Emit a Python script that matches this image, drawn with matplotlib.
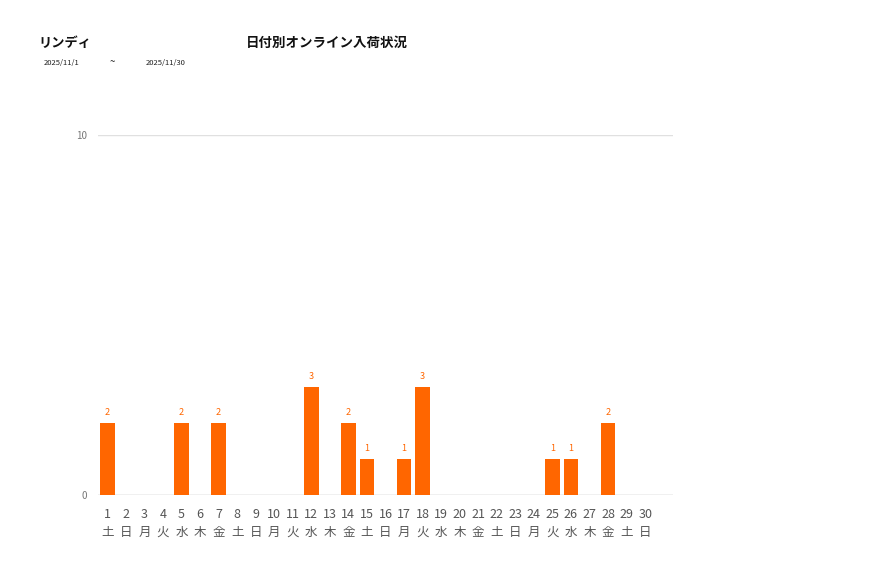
import matplotlib
matplotlib.use("Agg")
import matplotlib.pyplot as plt

plt.rcParams["font.family"] = ["Noto Sans CJK JP", "DejaVu Sans"]

# データ: 2025年11月の日別オンライン入荷数
DAYS = list(range(1, 31))
WEEKDAYS = ["土", "日", "月", "火", "水", "木", "金"] * 5
WEEKDAYS = WEEKDAYS[:30]
COUNTS = [2, 0, 0, 0, 2, 0, 2, 0, 0, 0,
          0, 3, 0, 2, 1, 0, 1, 3, 0, 0,
          0, 0, 0, 0, 1, 1, 0, 2, 0, 0]
Y_TICKS = [0, 10]

ORANGE = "#ff6600"
GRAY = "#555555"

fig = plt.figure(figsize=(8.77, 5.78), dpi=100)
ax = fig.add_axes([98 / 877, 1 - 495 / 578, 575 / 877, 360 / 578])

bars = ax.bar(DAYS, COUNTS, width=0.79, color=ORANGE, zorder=3)
for d, c in zip(DAYS, COUNTS):
    if c > 0:
        ax.text(d, c + 0.18, str(c), ha="center", va="bottom",
                fontsize=6.5, color=ORANGE)

ax.set_xlim(0.5, 31.5)
ax.set_ylim(0, 10)
ax.set_yticks(Y_TICKS)
ax.set_yticklabels([str(t) for t in Y_TICKS], fontsize=7, color="#777777")
ax.set_xticks(DAYS)
ax.set_xticklabels([f"{d}\n{w}" for d, w in zip(DAYS, WEEKDAYS)],
                   fontsize=9, color=GRAY, linespacing=1.55)
ax.tick_params(axis="both", length=0)
ax.tick_params(axis="x", pad=9)
ax.tick_params(axis="y", pad=8)
ax.grid(True, axis="y", color="#e0e0e0", lw=1.0, zorder=0)
for s in ax.spines.values():
    s.set_visible(False)
ax.axhline(0, color="#d0d0d0", lw=1.0, zorder=2)

# ヘッダー
fig.text(38 / 877, 1 - 43 / 578, "リンディ", fontsize=9.5, fontweight="bold",
         ha="left", va="center", color="#111111")
fig.text(327 / 877, 1 - 43 / 578, "日付別オンライン入荷状況", fontsize=9.7,
         fontweight="bold", ha="center", va="center", color="#111111")
fig.text(44 / 877, 1 - 63 / 578, "2025/11/1", fontsize=5.5, ha="left",
         va="center", color="#222222")
fig.text(112 / 877, 1 - 62 / 578, "~", fontsize=7, ha="center",
         va="center", color="#222222")
fig.text(146 / 877, 1 - 63 / 578, "2025/11/30", fontsize=5.5, ha="left",
         va="center", color="#222222")

fig.savefig("out.png", dpi=100)
